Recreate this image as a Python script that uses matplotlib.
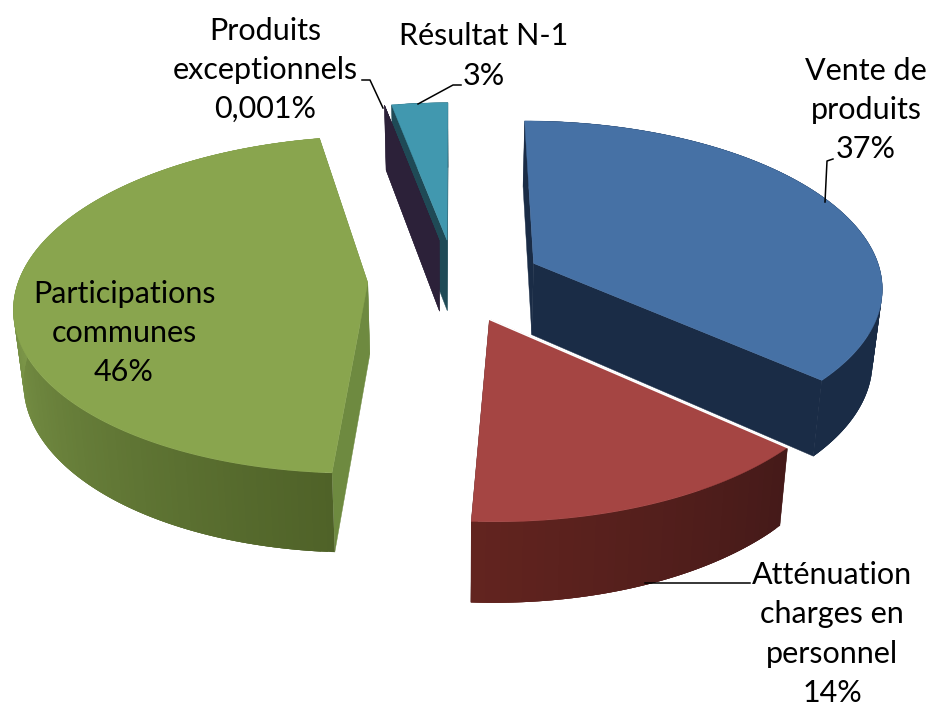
import numpy as np
import matplotlib
matplotlib.use('Agg')
from matplotlib import pyplot as plt
from matplotlib.collections import PolyCollection
from matplotlib.colors import to_rgb

#Values, clockwise from 12 o'clock
categories = ['Vente de\nproduits', 'Atténuation\ncharges en\npersonnel',
              'Participations\ncommunes', 'Produits\nexceptionnels', 'Résultat N-1']
shares = [36.6, 14.3, 46.1, 0.001, 3]
share_labels = ['37%', '14%', '46%', '0,001%', '3%']

#Colours per slice: top, wall, rim at the start angle, rim at the end angle
top_colors = ['#4671a5', '#a54543', '#89a54e', '#2c2139', '#4198af']
wall_colors = ['#1a2c46', '#451a19', '#6e8a40', '#2c2139', '#1f4a56']
rim_start = ['#1a2c46', '#451a19', '#4f6228', '#2c2139', '#1f4a56']
rim_end = ['#1a2c46', '#63241f', '#7f9a4b', '#2c2139', '#1f4a56']
rim_reach = [1.0, 1.0, 0.55, 1.0, 1.0]

#Label centres and leader lines, in pixels
label_pos = [(866, 110), (832, 634), (124, 333), (265, 70), (484, 56)]
leaders = [[(833, 159), (827, 161), (825, 202)],
           [(750, 583), (645, 583)],
           None,
           [(362, 80), (370, 80), (383, 108)],
           [(461, 85), (453, 85), (418, 104)]]

#Projection of the tilted pie
cx, cy = 455, 280
a, b = 349, 165
persp = 0.13
explode = 0.25
depth = 72
depth_persp = 0.09
shrink = 0.023


def project(u, v, low=False):
    s = 1 + persp * v
    x = a * u / s
    y = -b * v / s
    if low:
        y = y + depth / (1 + depth_persp * v)
        x = x * (1 - shrink)
    return cx + x, cy + y


def pie_point(theta, mid, radius=1.0):
    u = explode * np.sin(mid) + radius * np.sin(theta)
    v = explode * np.cos(mid) + radius * np.cos(theta)
    return u, v


def wall(theta, mid):
    tip = pie_point(theta, mid, 0)
    rim = pie_point(theta, mid)
    return [project(*tip), project(*rim), project(*rim, low=True), project(*tip, low=True)]


def draw_slice(ax, i, start, end):
    mid = (start + end) / 2
    angles = np.linspace(start, end, max(int(np.degrees(end - start)), 2))

    #Side walls
    for theta in (start, end):
        ax.fill(*zip(*wall(theta, mid)), color=wall_colors[i], lw=0.3, zorder=order[i])

    #Outer rim with its gradient, each band running under the next one
    quads = []
    colors = []
    c0 = np.array(to_rgb(rim_start[i]))
    c1 = np.array(to_rgb(rim_end[i]))
    for k in range(len(angles) - 1):
        t0 = angles[k]
        band = [pie_point(t, mid) for t in angles[k:min(k + 3, len(angles) - 1) + 1]]
        quads.append([project(*p) for p in band] + [project(*p, low=True) for p in band[::-1]])
        f = min((t0 - start) / (end - start) / rim_reach[i], 1)
        colors.append(c0 + (c1 - c0) * f)
    ax.add_collection(PolyCollection(quads, facecolors=colors, edgecolors='none', zorder=order[i]))

    #Top face
    outline = [project(*pie_point(start, mid, 0))]
    outline += [project(*pie_point(t, mid)) for t in angles]
    ax.fill(*zip(*outline), color=top_colors[i], lw=0.3, zorder=order[i] + 0.5)

    #White edge along the start of the red slice
    if i == 1:
        ax.plot(*zip(project(*pie_point(start, mid, 0)), project(*pie_point(start, mid))),
                color='white', lw=1.2, zorder=order[i] + 0.6)


plt.rcParams['font.family'] = ['Lato', 'DejaVu Sans']

fig = plt.figure(figsize=(9.3, 7.07), dpi=100)
ax = fig.add_axes([0, 0, 1, 1])
ax.set_xlim(0, 930)
ax.set_ylim(707, 0)
ax.axis('off')

#Drawing order, back to front: teal, purple, blue, green, red
order = [3, 5, 4, 2, 1]

edges = np.radians(np.cumsum([0] + shares) / sum(shares) * 360)
for i in range(len(shares)):
    draw_slice(ax, i, edges[i], edges[i + 1])

#Leader lines
for line in leaders:
    if line is not None:
        ax.plot(*zip(*line), color='black', lw=1.1, zorder=7)

#Labels
for name, pct, pos in zip(categories, share_labels, label_pos):
    ax.text(pos[0], pos[1], name + '\n' + pct, ha='center', va='center', fontsize=22,
            linespacing=1.49, color='black', zorder=8)

fig.savefig('out.png', dpi=100)
